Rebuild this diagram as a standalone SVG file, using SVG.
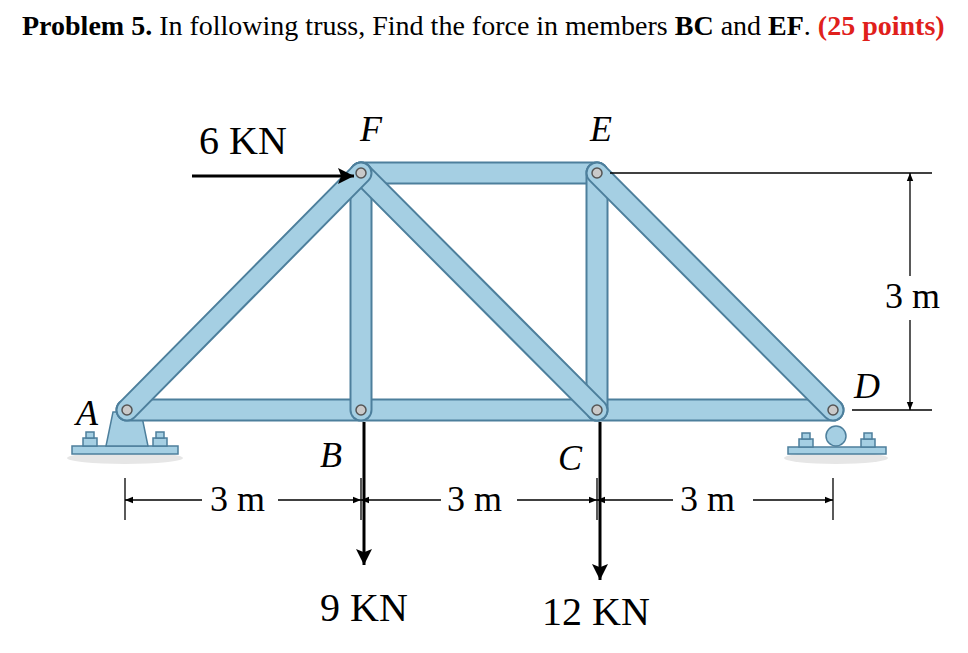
<svg xmlns="http://www.w3.org/2000/svg" width="968" height="653" viewBox="0 0 968 653">
<defs>
<style>
.t{font-family:"Liberation Serif",serif;fill:#000}
.i{font-style:italic}
.mo{stroke:#4d7f9c;stroke-width:23;stroke-linecap:round;fill:none}
.mi{stroke:#a5cfe3;stroke-width:19;stroke-linecap:round;fill:none}
.d{stroke:#000;stroke-width:1.3;fill:none}
.pin{fill:#c9c9c9;stroke:#555;stroke-width:1.5}
.plate{fill:#a5cfe3;stroke:#4d7f9c;stroke-width:1.5}
</style>
<marker id="ah" viewBox="0 0 10 10" refX="10" refY="5" markerWidth="10" markerHeight="8" orient="auto-start-reverse" markerUnits="userSpaceOnUse"><path d="M0,1 L10,5 L0,9 z" fill="#000"/></marker>
<marker id="big" viewBox="0 0 10 10" refX="10" refY="5" markerWidth="26" markerHeight="16" orient="auto" markerUnits="userSpaceOnUse"><path d="M0,0 L10,5 L0,10 L2,5 z" fill="#000"/></marker>
</defs>
<rect width="968" height="653" fill="#fff"/>
<text x="22" y="35" class="t" font-size="28"><tspan font-weight="bold">Problem 5.</tspan> In following truss, Find the force in members <tspan font-weight="bold">BC</tspan> and <tspan font-weight="bold">EF</tspan>. <tspan font-weight="bold" fill="#e0201b">(25 points)</tspan></text>

<g id="supportA">
<ellipse cx="125" cy="458" rx="58" ry="6" fill="#e6e6e6"/>
<rect x="72" y="446" width="106" height="8" class="plate"/>
<path d="M106,446 L113,412 L141,412 L148,446 Z" class="plate"/>
<rect x="83" y="438" width="14" height="8" class="plate"/><rect x="86" y="432" width="8" height="6" class="plate"/>
<rect x="153" y="438" width="14" height="8" class="plate"/><rect x="156" y="432" width="8" height="6" class="plate"/>
</g>
<g id="supportD">
<ellipse cx="836" cy="458" rx="52" ry="6" fill="#e6e6e6"/>
<rect x="788" y="447" width="98" height="7" class="plate"/>
<circle cx="836" cy="436" r="10" class="plate"/>
<rect x="799" y="439" width="14" height="8" class="plate"/><rect x="802" y="433" width="8" height="6" class="plate"/>
<rect x="861" y="439" width="14" height="8" class="plate"/><rect x="864" y="433" width="8" height="6" class="plate"/>
</g>
<g id="members">
<line x1="127" y1="410" x2="833" y2="410" class="mo"/><line x1="127" y1="410" x2="833" y2="410" class="mi"/>
<line x1="361" y1="173" x2="597" y2="173" class="mo"/><line x1="361" y1="173" x2="597" y2="173" class="mi"/>
<line x1="361" y1="173" x2="361" y2="410" class="mo"/><line x1="361" y1="173" x2="361" y2="410" class="mi"/>
<line x1="597" y1="173" x2="597" y2="410" class="mo"/><line x1="597" y1="173" x2="597" y2="410" class="mi"/>
<line x1="361" y1="173" x2="597" y2="410" class="mo"/><line x1="361" y1="173" x2="597" y2="410" class="mi"/>
<line x1="127" y1="410" x2="361" y2="173" class="mo"/><line x1="127" y1="410" x2="361" y2="173" class="mi"/>
<line x1="597" y1="173" x2="833" y2="410" class="mo"/><line x1="597" y1="173" x2="833" y2="410" class="mi"/>
</g>
<g id="pins">
<circle cx="127" cy="410" r="5" class="pin"/><circle cx="361" cy="410" r="5" class="pin"/>
<circle cx="597" cy="410" r="5" class="pin"/><circle cx="833" cy="410" r="5" class="pin"/>
<circle cx="361" cy="173" r="5" class="pin"/><circle cx="597" cy="173" r="5" class="pin"/>
</g>
<g id="connectors">
<line x1="192" y1="176" x2="354" y2="176" stroke="#000" stroke-width="3" marker-end="url(#big)"/>
<line x1="364" y1="422" x2="364" y2="565" stroke="#000" stroke-width="3" marker-end="url(#big)"/>
<line x1="600" y1="422" x2="600" y2="580" stroke="#000" stroke-width="3" marker-end="url(#big)"/>
<line x1="125" y1="478" x2="125" y2="520" class="d"/>
<line x1="361" y1="478" x2="361" y2="520" class="d"/>
<line x1="597" y1="478" x2="597" y2="520" class="d"/>
<line x1="833" y1="478" x2="833" y2="520" class="d"/>
<line x1="125" y1="500" x2="202" y2="500" class="d" marker-start="url(#ah)"/>
<line x1="278" y1="500" x2="361" y2="500" class="d" marker-end="url(#ah)"/>
<line x1="361" y1="500" x2="441" y2="500" class="d" marker-start="url(#ah)"/>
<line x1="517" y1="500" x2="597" y2="500" class="d" marker-end="url(#ah)"/>
<line x1="597" y1="500" x2="673" y2="500" class="d" marker-start="url(#ah)"/>
<line x1="753" y1="500" x2="833" y2="500" class="d" marker-end="url(#ah)"/>
<line x1="610" y1="173" x2="932" y2="173" class="d"/>
<line x1="852" y1="410" x2="932" y2="410" class="d"/>
<line x1="910" y1="173" x2="910" y2="276" class="d" marker-start="url(#ah)"/>
<line x1="910" y1="320" x2="910" y2="410" class="d" marker-end="url(#ah)"/>
</g>
<g id="labels">
<text x="199" y="154" class="t" font-size="40">6 KN</text>
<text x="360" y="141" class="t i" font-size="36">F</text>
<text x="590" y="141" class="t i" font-size="36">E</text>
<text x="76" y="425" class="t i" font-size="36">A</text>
<text x="320" y="467" class="t i" font-size="36">B</text>
<text x="558" y="470" class="t i" font-size="36">C</text>
<text x="854" y="398" class="t i" font-size="36">D</text>
<text x="210" y="511" class="t" font-size="36">3 m</text>
<text x="447" y="511" class="t" font-size="36">3 m</text>
<text x="680" y="511" class="t" font-size="36">3 m</text>
<text x="885" y="308" class="t" font-size="36">3 m</text>
<text x="320" y="621" class="t" font-size="40">9 KN</text>
<text x="542" y="625" class="t" font-size="40">12 KN</text>
</g>
</svg>
